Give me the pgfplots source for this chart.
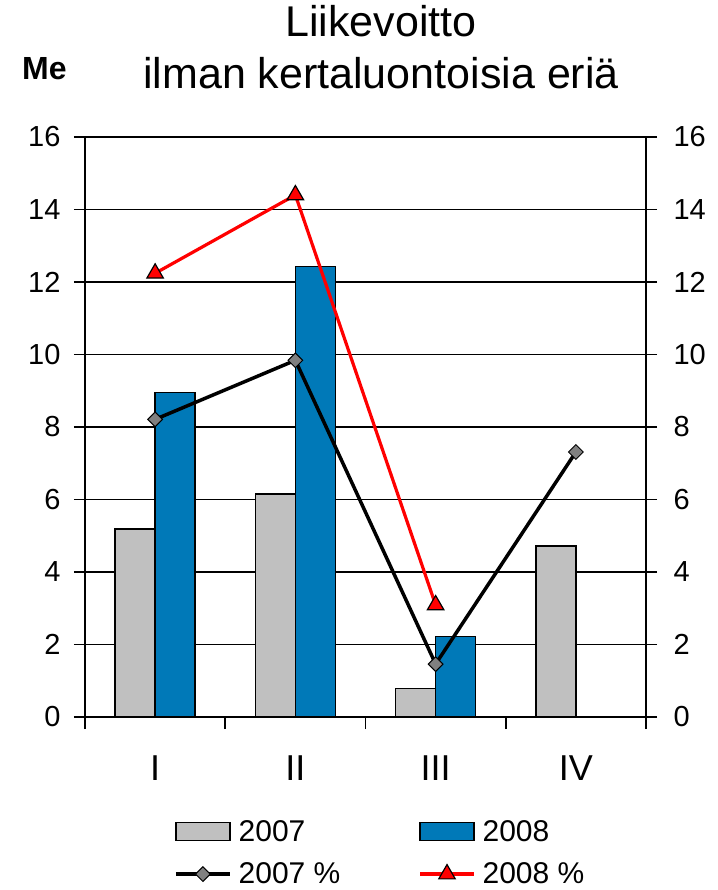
\documentclass[border=0pt]{standalone}
\usepackage{pgfplots}
\pgfplotsset{compat=1.18}
\usepackage{fontspec}
\setmainfont{Liberation Sans}
\definecolor{c07}{RGB}{192,192,192}
\definecolor{c08}{RGB}{0,121,184}
\definecolor{dgray}{RGB}{128,128,128}
\pgfplotsset{
  linelegend/.style={legend image code/.code={\draw[mark repeat=2, mark phase=2, ##1] plot coordinates {(0bp,0bp) (27bp,0bp) (54bp,0bp)};}},
  barlegend/.style={legend image code/.code={\draw[fill=#1, draw=black, line width=1.5bp] (0bp,-9bp) rectangle (54bp,9bp);}},
}
\begin{document}
\begin{tikzpicture}
\useasboundingbox (0,0) rectangle (718bp,890bp);
\node[anchor=base, font=\fontsize{43bp}{50bp}\selectfont] at (381bp,853bp) {Liikevoitto};
\node[anchor=base, font=\fontsize{43bp}{50bp}\selectfont] at (381bp,801bp) {ilman kertaluontoisia eriä};
\node[anchor=base west, inner sep=0pt, font=\fontsize{32bp}{38bp}\selectfont\bfseries] at (22bp,810bp) {Me};
\begin{axis}[
  at={(85bp,173bp)}, anchor=south west,
  scale only axis, width=561bp, height=580bp,
  xmin=-0.5, xmax=3.5, ymin=0, ymax=16,
  xtick={0,1,2,3}, xticklabels={I,II,III,IV},
  major x tick style={draw=none},
  minor xtick={-0.5,0.5,1.5,2.5,3.5},
  xtick align=outside, minor tick length=12bp,
  ytick={0,2,...,16}, ytick align=center, major tick length=22bp,
  xtick pos=bottom, ytick pos=left,
  ymajorgrids, grid style={black, line width=1.8bp},
  axis line style={line width=2bp},
  tick style={black, line width=1.8bp},
  /pgf/number format/assume math mode=true,
  yticklabel style={font=\fontsize{29bp}{35bp}\selectfont, anchor=east, xshift=-10bp},
  xticklabel style={font=\fontsize{36bp}{43bp}\selectfont, anchor=base, yshift=-41bp},
  legend columns=2,
  legend cell align=left,
  legend style={draw=none, fill=none, inner sep=0pt, at={(0.1586,-0.178)}, anchor=north west,
    font=\fontsize{30bp}{36bp}\selectfont,
    nodes={inner sep=0pt},
    row sep=20bp,
    /tikz/every odd column/.style={column sep=7bp},
    /tikz/every even column/.style={column sep=78bp}},
]
\addplot[ybar, bar width=40bp, bar shift=-20bp, fill=c07, draw=black, line width=1.5bp, barlegend=c07]
  coordinates {(0,5.19) (1,6.15) (2,0.79) (3,4.72)};
\addlegendentry{2007}
\addplot[ybar, bar width=40bp, bar shift=20bp, fill=c08, draw=black, line width=1.5bp, barlegend=c08]
  coordinates {(0,8.95) (1,12.43) (2,2.22)};
\addlegendentry{2008}
\addplot[black, line width=3.5bp, mark=square*, mark size=5.2bp,
  mark options={rotate=45, fill=dgray, draw=black, line width=1bp}, linelegend]
  coordinates {(0,8.21) (1,9.84) (2,1.46) (3,7.31)};
\addlegendentry{2007 \%}
\addplot[red, line width=3.2bp, mark=triangle*, mark size=9.5bp,
  mark options={fill=red, draw=black, line width=1.2bp}, linelegend]
  coordinates {(0,12.24) (1,14.4) (2,3.09)};
\addlegendentry{2008 \%}
\end{axis}
\begin{axis}[
  at={(85bp,173bp)}, anchor=south west,
  scale only axis, width=561bp, height=580bp,
  xmin=-0.5, xmax=3.5, ymin=0, ymax=16,
  axis x line=none, axis y line*=right,
  ytick={0,2,...,16}, ytick align=center, major tick length=22bp,
  axis line style={line width=2bp, -},
  tick style={black, line width=1.8bp},
  /pgf/number format/assume math mode=true,
  yticklabel style={font=\fontsize{29bp}{35bp}\selectfont, anchor=west, xshift=13bp},
]
\end{axis}
\end{tikzpicture}
\end{document}
